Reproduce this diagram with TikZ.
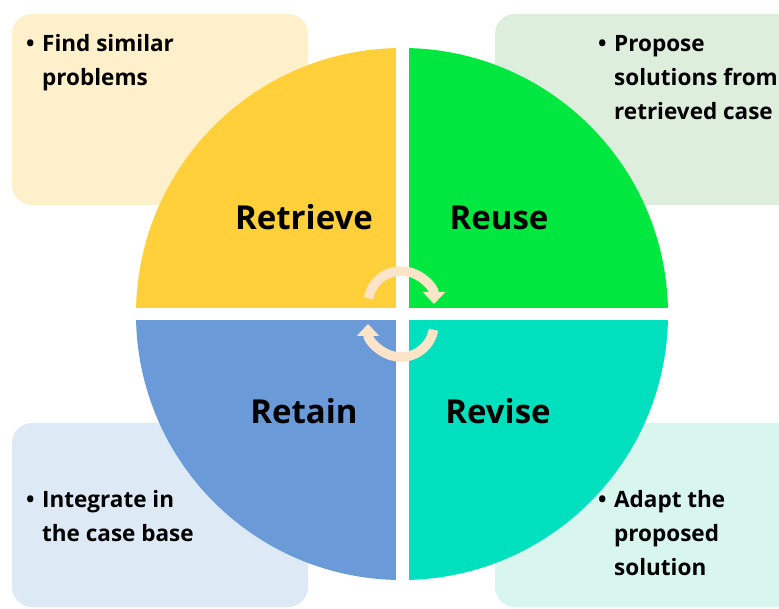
\documentclass[tikz,border=0pt]{standalone}
\usepackage{fontspec}
\setmainfont{Open Sans}
\usetikzlibrary{arrows.meta}
\definecolor{cretrieve}{HTML}{FFD03A}
\definecolor{creuse}{HTML}{00E840}
\definecolor{cretain}{HTML}{6A9BD8}
\definecolor{crevise}{HTML}{00E0BE}
\definecolor{bretrieve}{HTML}{FFF0CC}
\definecolor{breuse}{HTML}{DEEEDC}
\definecolor{bretain}{HTML}{DDEAF6}
\definecolor{brevise}{HTML}{D8F5EE}
\definecolor{carrow}{HTML}{FCE4C8}
\tikzset{
  infobox/.style={rounded corners=20pt},
  bigtxt/.style={font=\fontsize{33}{40}\selectfont\bfseries, anchor=base, inner sep=0pt},
  bullettxt/.style={font=\fontsize{22.5}{34}\selectfont\bfseries, anchor=base west, inner sep=0pt},
  cyclearrow/.style={carrow, line width=9.5pt, -{Triangle[width=22pt,length=12pt]}}
}
\newcommand{\bul}[1]{\begin{tabular}[t]{@{}l@{}l@{}}\makebox[16pt][l]{\textbullet}&\begin{tabular}[t]{@{}l@{}}#1\end{tabular}\end{tabular}}
\begin{document}
\begin{tikzpicture}[x=1pt,y=1pt]
\clip (0,0) rectangle (779,608);
\fill[white] (0,0) rectangle (779,608);
% boxes
\fill[bretrieve, infobox] (12,403) rectangle (308,594);
\fill[breuse, infobox] (495,403) rectangle (800,594);
\fill[bretain, infobox] (12,1) rectangle (308,185);
\fill[brevise, infobox] (495,1) rectangle (800,185);
% circle quadrants
\coordinate (c) at (402,294);
\fill[cretrieve] (c) -- ++(-266,0) arc[start angle=180,end angle=90,radius=266] -- cycle;
\fill[creuse] (c) -- ++(0,266) arc[start angle=90,end angle=0,radius=266] -- cycle;
\fill[crevise] (c) -- ++(266,0) arc[start angle=0,end angle=-90,radius=266] -- cycle;
\fill[cretain] (c) -- ++(0,-266) arc[start angle=270,end angle=180,radius=266] -- cycle;
\draw[white, line width=12.5pt] ([xshift=-270pt]c) -- ([xshift=270pt]c);
\draw[white, line width=13pt] ([yshift=-270pt]c) -- ([yshift=270pt]c);
% cycle arrows
\coordinate (ua) at (401,304);
\coordinate (la) at (401,284);
\draw[cyclearrow] ([shift={(170:33)}]ua) arc[start angle=170,end angle=0,radius=33];
\draw[cyclearrow] ([shift={(-10:33)}]la) arc[start angle=-10,end angle=-180,radius=33];
% labels
\node[bigtxt] (retrieve) at (304,378) {Retrieve};
\node[bigtxt] (reuse) at (499,378) {Reuse};
\node[bigtxt] (retain) at (304,184) {Retain};
\node[bigtxt] (revise) at (498,184) {Revise};
% bullets
\node[bullettxt] (t1) at (26,556) {\bul{Find similar\\problems}};
\node[bullettxt] (t2) at (598,556) {\bul{Propose\\solutions from\\retrieved case}};
\node[bullettxt] (t3) at (26,100) {\bul{Integrate in\\the case base}};
\node[bullettxt] (t4) at (598,100) {\bul{Adapt the\\proposed\\solution}};
\end{tikzpicture}
\end{document}
